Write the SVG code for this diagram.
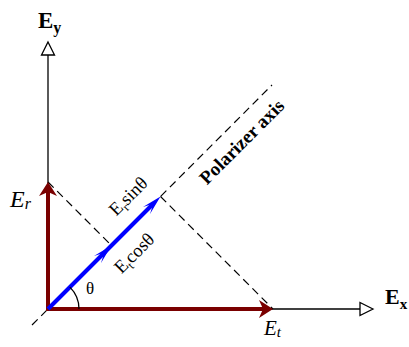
<svg xmlns="http://www.w3.org/2000/svg" width="409" height="347" viewBox="0 0 409 347">
<style>
.ax{stroke:#000;stroke-width:1.3;fill:none}
.dash{stroke:#000;stroke-width:1.2;fill:none;stroke-dasharray:8 5}
.red{stroke:#7a0000;stroke-width:4;fill:none}
.blue{stroke:#0000ff;stroke-width:4;fill:none}
.t{font-family:"Liberation Serif","Times New Roman",serif;fill:#000}
</style>
<rect width="409" height="347" fill="#fff"/>
<g id="connectors">
  <line class="dash" x1="32" y1="325" x2="272" y2="85"/>
  <line class="dash" x1="48" y1="182" x2="111.5" y2="245.5"/>
  <line class="dash" x1="160.5" y1="196.5" x2="273" y2="309"/>
</g>
<g id="axis-y">
  <line class="ax" x1="48" y1="309" x2="48" y2="55"/>
  <path d="M48,42 L54.5,55 L41.5,55 Z" fill="#fff" stroke="#000" stroke-width="1.3"/>
  <text class="t" x="38" y="28" font-size="23" font-weight="bold">E<tspan font-size="16" dy="5">y</tspan></text>
</g>
<g id="axis-x">
  <line class="ax" x1="48" y1="309" x2="360" y2="309"/>
  <path d="M373,309 L360,302.5 L360,315.5 Z" fill="#fff" stroke="#000" stroke-width="1.3"/>
  <text class="t" x="385" y="304" font-size="22" font-weight="bold">E<tspan font-size="15" dy="5">x</tspan></text>
</g>
<g id="E-r">
  <line class="red" x1="48" y1="311" x2="48" y2="192"/>
  <path d="M48,182 L57,196 L48,192 L39,196 Z" fill="#7a0000"/>
  <text class="t" x="10" y="207" font-size="24" font-style="italic">E<tspan font-size="16" dy="2">r</tspan></text>
</g>
<g id="E-t">
  <line class="red" x1="46" y1="309" x2="263" y2="309"/>
  <path d="M273,309 L259,318 L263,309 L259,300 Z" fill="#7a0000"/>
  <text class="t" x="264" y="335" font-size="21" font-style="italic">E<tspan font-size="15" dy="2">t</tspan></text>
</g>
<g id="projection">
  <line class="blue" x1="48" y1="309" x2="153" y2="204"/>
  <path d="M111.5,245.5 L101,263 L104.2,252.8 L94,256 Z" fill="#0000ff"/>
  <path d="M160.5,196.5 L150,214 L153.2,203.8 L143,207 Z" fill="#0000ff"/>
  <path d="M79,309 A31,31 0 0 0 69.9,287.1" class="ax"/>
  <text class="t" x="86" y="294" font-size="17">θ</text>
</g>
<g id="labels">
  <text class="t" transform="translate(129,197) rotate(-45)" x="0" y="5" font-size="18.5" text-anchor="middle">E<tspan font-size="12" dy="4">r</tspan><tspan dy="-4">sinθ</tspan></text>
  <text class="t" transform="translate(135,254) rotate(-45)" x="0" y="5" font-size="18.5" text-anchor="middle">E<tspan font-size="12" dy="4">t</tspan><tspan dy="-4">cosθ</tspan></text>
  <text class="t" transform="translate(242,142) rotate(-45)" x="0" y="6" font-size="19" font-weight="bold" text-anchor="middle">Polarizer axis</text>
</g>
</svg>
